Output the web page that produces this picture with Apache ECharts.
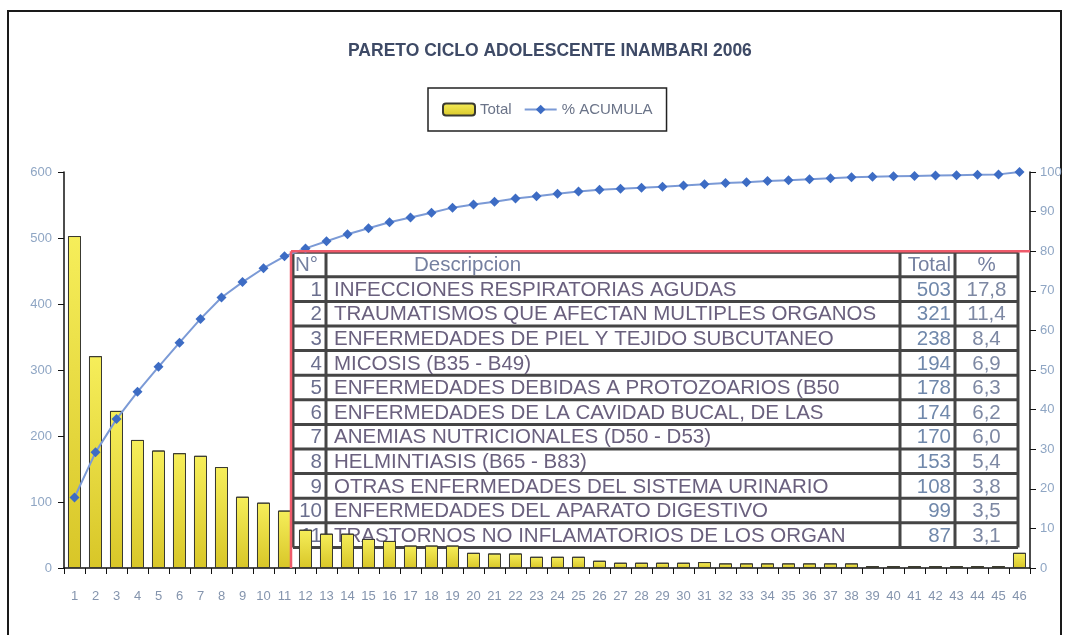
<!DOCTYPE html>
<html>
<head>
<meta charset="utf-8">
<script src="https://cdn.jsdelivr.net/npm/echarts@6/dist/echarts.min.js"></script>
<style>
  html, body { margin: 0; padding: 0; background: #fff; }
  #main { width: 1069px; height: 635px; }
</style>
</head>
<body>
<div id="main"></div>
<script>
// datos del grafico
const categorias = ['1','2','3','4','5','6','7','8','9','10','11','12','13','14','15','16','17','18','19','20','21','22','23',
  '24','25','26','27','28','29','30','31','32','33','34','35','36','37','38','39','40','41','42','43','44','45','46'];
const totales = [503, 321, 238, 194, 178, 174, 170, 153, 108, 99, 87, 58, 52, 52, 44, 41, 34, 34, 34, 23, 22, 22, 17,
  17, 17, 11, 8, 8, 8, 8, 9, 7, 7, 7, 7, 7, 7, 7, 3, 3, 3, 3, 3, 3, 3, 23];
const acumulado = [17.8, 29.2, 37.6, 44.5, 50.8, 56.9, 62.9, 68.3, 72.2, 75.7, 78.7, 80.7, 82.5, 84.3, 85.8, 87.3, 88.5,
  89.7, 91.0, 91.8, 92.5, 93.3, 93.9, 94.5, 95.1, 95.5, 95.8, 96.0, 96.3, 96.6, 96.9, 97.2, 97.4, 97.7, 97.9, 98.2, 98.4,
  98.7, 98.8, 98.9, 99.0, 99.1, 99.2, 99.3, 99.4, 100];

// tabla de las 11 primeras causas
const tablaNro = ['1', '2', '3', '4', '5', '6', '7', '8', '9', '10', '11'];
const tablaDesc = [
  'INFECCIONES RESPIRATORIAS AGUDAS',
  'TRAUMATISMOS QUE AFECTAN MULTIPLES ORGANOS',
  'ENFERMEDADES DE PIEL Y TEJIDO SUBCUTANEO',
  'MICOSIS (B35 - B49)',
  'ENFERMEDADES DEBIDAS A PROTOZOARIOS (B50',
  'ENFERMEDADES DE LA CAVIDAD BUCAL, DE LAS',
  'ANEMIAS NUTRICIONALES (D50 - D53)',
  'HELMINTIASIS (B65 - B83)',
  'OTRAS ENFERMEDADES DEL SISTEMA URINARIO',
  'ENFERMEDADES DEL APARATO DIGESTIVO',
  'TRASTORNOS NO INFLAMATORIOS DE LOS ORGAN'
];
const tablaTotal = ['503', '321', '238', '194', '178', '174', '170', '153', '108', '99', '87'];
const tablaPct = ['17,8', '11,4', '8,4', '6,9', '6,3', '6,2', '6,0', '5,4', '3,8', '3,5', '3,1'];

const chart = echarts.init(document.getElementById('main'));
const gapPct = 38;

const option = {
  backgroundColor: '#fff',
  animation: false,
  title: {
    text: 'PARETO CICLO ADOLESCENTE INAMBARI 2006',
    left: 343,
    top: 37,
    textStyle: { fontFamily: 'Liberation Sans, Arial', fontSize: 17.5, fontWeight: 'bold', color: '#3e4a66' }
  },
  legend: {
    top: 88,
    left: 428,
    padding: [14, 14],
    borderColor: '#222',
    borderWidth: 1.5,
    itemWidth: 32,
    itemHeight: 12,
    itemGap: 12,
    textStyle: { fontFamily: 'Liberation Sans, Arial', fontSize: 15, color: '#6a7388' },
    data: ['Total', '% ACUMULA']
  },
  grid: { left: 64, right: 39, top: 172, bottom: 67 },
  xAxis: {
    type: 'category',
    data: categorias,
    axisLine: { lineStyle: { color: '#111', width: 1.5 } },
    axisTick: { show: true, length: 6, lineStyle: { color: '#111' } },
    axisLabel: { interval: 0, color: '#8494ad', fontSize: 13, margin: 22, fontFamily: 'Liberation Sans, Arial' }
  },
  yAxis: [
    {
      type: 'value', min: 0, max: 600, interval: 100,
      splitLine: { show: false },
      axisLine: { show: true, lineStyle: { color: '#111', width: 1.5 } },
      axisTick: { show: true, length: 6, lineStyle: { color: '#111' } },
      axisLabel: { color: '#8fa6c4', fontSize: 13, margin: 12, fontFamily: 'Liberation Sans, Arial' }
    },
    {
      type: 'value', min: 0, max: 100, interval: 10,
      position: 'right',
      splitLine: { show: false },
      axisLine: { show: true, lineStyle: { color: '#111', width: 1.5 } },
      axisTick: { show: true, length: 6, lineStyle: { color: '#111' } },
      axisLabel: { color: '#8fa6c4', fontSize: 13, margin: 10, fontFamily: 'Liberation Sans, Arial' }
    }
  ],
  series: [
    {
      name: 'Total',
      type: 'bar',
      data: totales,
      barCategoryGap: gapPct + '%',
      itemStyle: {
        color: new echarts.graphic.LinearGradient(0, 0, 0, 1, [
          { offset: 0, color: '#f6ee5a' },
          { offset: 1, color: '#d8c628' }
        ]),
        borderColor: '#3a3a30',
        borderWidth: 1
      }
    },
    {
      name: '% ACUMULA',
      type: 'line',
      yAxisIndex: 1,
      data: acumulado,
      symbol: 'diamond',
      symbolSize: 10,
      lineStyle: { color: '#7b9ad6', width: 2 },
      itemStyle: { color: '#3d6cc4' }
    }
  ]
};

chart.setOption(option);

// tabla y lineas rojas ubicadas con las escalas del grafico
function dibujarTabla() {
  const c0 = chart.convertToPixel({ xAxisIndex: 0 }, 0);
  const c1 = chart.convertToPixel({ xAxisIndex: 0 }, 1);
  const catW = c1 - c0;
  const barHalf = catW * (1 - gapPct / 100) / 2;
  const xRojo = chart.convertToPixel({ xAxisIndex: 0 }, 10) + barHalf;
  const xFin = chart.convertToPixel({ xAxisIndex: 0 }, 45) + catW / 2;
  const yTop = chart.convertToPixel({ yAxisIndex: 1 }, 80);
  const yCero = chart.convertToPixel({ yAxisIndex: 1 }, 0);

  const left = xRojo + 2;
  const right = xFin - 12;
  const rowH = 24.6;
  const top = yTop + 1;
  const cols = [left, left + 33, right - 118, right - 63, right];
  const bottom = top + rowH * 12;
  const els = [];
  const stroke = { stroke: '#454545', lineWidth: 3 };

  // bordes
  for (let i = 0; i <= 12; i++) {
    els.push({ type: 'line', shape: { x1: left, y1: top + i * rowH, x2: right, y2: top + i * rowH }, style: stroke });
  }
  cols.forEach(function (x) {
    els.push({ type: 'line', shape: { x1: x, y1: top, x2: x, y2: bottom }, style: stroke });
  });

  const font = '20.5px Liberation Sans, Arial';
  const txt = function (x, y, s, align, fill) {
    els.push({ type: 'text', x: x, y: y, style: { text: s, font: font, fill: fill, align: align, verticalAlign: 'middle' } });
  };
  // encabezado
  const yh = top + rowH / 2 + 1;
  txt(cols[0] + 2, yh, 'N°', 'left', '#7580a0');
  txt(cols[1] + 88, yh, 'Descripcion', 'left', '#7580a0');
  txt(cols[3] - 4, yh, 'Total', 'right', '#7580a0');
  txt((cols[3] + cols[4]) / 2, yh, '%', 'center', '#7580a0');
  for (let i = 0; i < tablaDesc.length; i++) {
    const y = top + rowH * (i + 1.5) + 1;
    txt(cols[1] - 4, y, tablaNro[i], 'right', '#6b6f8e');
    txt(cols[1] + 8, y, tablaDesc[i], 'left', '#6a607e');
    txt(cols[3] - 4, y, tablaTotal[i], 'right', '#7088ab');
    txt((cols[3] + cols[4]) / 2, y, tablaPct[i], 'center', '#7d88a3');
  }

  // lineas rojas del 80%
  const rojo = { stroke: '#ef5a6a', lineWidth: 2.5 };
  els.push({ type: 'line', shape: { x1: xRojo, y1: yTop, x2: xFin, y2: yTop }, style: rojo, z: 10 });
  els.push({ type: 'line', shape: { x1: xRojo, y1: yTop, x2: xRojo, y2: yCero }, style: rojo, z: 10 });

  // marco exterior
  els.push({ type: 'rect', shape: { x: 8, y: 11, width: 1053, height: 640 }, style: { fill: 'none', stroke: '#1a1a1a', lineWidth: 2 } });

  chart.setOption({ graphic: { elements: els } });
}
dibujarTabla();
</script>
</body>
</html>
